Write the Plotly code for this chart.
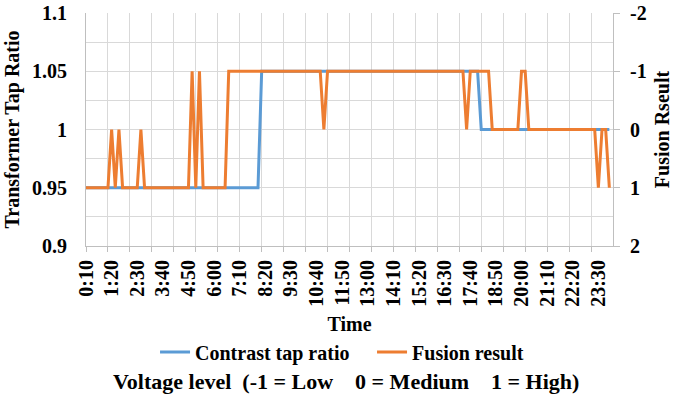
import plotly.graph_objects as go

# 10-minute samples over one day: 0:10 ... 24:00
TIMES = [f"{(m // 60)}:{m % 60:02d}" for m in range(10, 24 * 60 + 1, 10)]

# labels shown on the time axis (every 70 minutes)
TICK_LABELS = ["0:10", "1:20", "2:30", "3:40", "4:50", "6:00", "7:10", "8:20",
               "9:30", "10:40", "11:50", "13:00", "14:10", "15:20", "16:30",
               "17:40", "18:50", "20:00", "21:10", "22:20", "23:30"]

# transformer tap ratio used for comparison (12 samples = 2 hours per row)
CONTRAST_TAP = [
    0.95, 0.95, 0.95, 0.95, 0.95, 0.95, 0.95, 0.95, 0.95, 0.95, 0.95, 0.95,
    0.95, 0.95, 0.95, 0.95, 0.95, 0.95, 0.95, 0.95, 0.95, 0.95, 0.95, 0.95,
    0.95, 0.95, 0.95, 0.95, 0.95, 0.95, 0.95, 0.95, 0.95, 0.95, 0.95, 0.95,
    0.95, 0.95, 0.95, 0.95, 0.95, 0.95, 0.95, 0.95, 0.95, 0.95, 0.95, 0.95,
    1.05, 1.05, 1.05, 1.05, 1.05, 1.05, 1.05, 1.05, 1.05, 1.05, 1.05, 1.05,
    1.05, 1.05, 1.05, 1.05, 1.05, 1.05, 1.05, 1.05, 1.05, 1.05, 1.05, 1.05,
    1.05, 1.05, 1.05, 1.05, 1.05, 1.05, 1.05, 1.05, 1.05, 1.05, 1.05, 1.05,
    1.05, 1.05, 1.05, 1.05, 1.05, 1.05, 1.05, 1.05, 1.05, 1.05, 1.05, 1.05,
    1.05, 1.05, 1.05, 1.05, 1.05, 1.05, 1.05, 1.05, 1.05, 1.05, 1.05, 1.05,
    1.0, 1.0, 1.0, 1.0, 1.0, 1.0, 1.0, 1.0, 1.0, 1.0, 1.0, 1.0,
    1.0, 1.0, 1.0, 1.0, 1.0, 1.0, 1.0, 1.0, 1.0, 1.0, 1.0, 1.0,
    1.0, 1.0, 1.0, 1.0, 1.0, 1.0, 1.0, 1.0, 1.0, 1.0, 1.0, 1.0,
]

# fused voltage level (-1 = low, 0 = medium, 1 = high)
FUSION_LEVEL = [
    1, 1, 1, 1, 1, 1, 1, 0, 1, 0, 1, 1,
    1, 1, 1, 0, 1, 1, 1, 1, 1, 1, 1, 1,
    1, 1, 1, 1, 1, -1, 1, -1, 1, 1, 1, 1,
    1, 1, 1, -1, -1, -1, -1, -1, -1, -1, -1, -1,
    -1, -1, -1, -1, -1, -1, -1, -1, -1, -1, -1, -1,
    -1, -1, -1, -1, -1, 0, -1, -1, -1, -1, -1, -1,
    -1, -1, -1, -1, -1, -1, -1, -1, -1, -1, -1, -1,
    -1, -1, -1, -1, -1, -1, -1, -1, -1, -1, -1, -1,
    -1, -1, -1, -1, -1, -1, -1, -1, 0, -1, -1, -1,
    -1, -1, -1, 0, 0, 0, 0, 0, 0, 0, 0, -1,
    -1, 0, 0, 0, 0, 0, 0, 0, 0, 0, 0, 0,
    0, 0, 0, 0, 0, 0, 0, 0, 1, 0, 0, 1,
]

BLUE = "#5B9BD5"
ORANGE = "#ED7D31"
GRID = "#D9D9D9"
AXIS = "#BFBFBF"
SERIF = "Liberation Serif"

fig = go.Figure()
fig.add_trace(go.Scatter(
    x=TIMES, y=CONTRAST_TAP, mode="lines", name="Contrast tap ratio",
    line=dict(color=BLUE, width=3), xaxis="x", yaxis="y",
))
fig.add_trace(go.Scatter(
    x=TIMES, y=FUSION_LEVEL, mode="lines", name="Fusion result",
    line=dict(color=ORANGE, width=3), xaxis="x2", yaxis="y2",
))

tick_font = dict(family=SERIF, size=20, color="black", weight="bold")
title_font = dict(family=SERIF, size=20, color="black", weight="bold")

fig.update_layout(
    width=673, height=403,
    margin=dict(l=86, r=60, t=13, b=157),
    paper_bgcolor="white", plot_bgcolor="white",
    showlegend=True,
    legend=dict(
        orientation="h", x=0.131, xanchor="left", y=-0.455, yanchor="middle",
        font=dict(family=SERIF, size=20, color="black", weight="bold"),
        itemwidth=30, tracegroupgap=0,
        entrywidth=172, entrywidthmode="pixels",
    ),
    # hourly grid and tick marks
    xaxis=dict(
        type="category", range=[0, 144], automargin=False,
        tickmode="linear", tick0=0, dtick=6,
        showgrid=True, gridcolor=GRID, gridwidth=1,
        ticks="outside", ticklen=5, tickcolor=AXIS,
        showticklabels=False,
        showline=True, linecolor=AXIS, linewidth=1,
        zeroline=False,
    ),
    # time labels every 70 minutes
    xaxis2=dict(
        type="category", overlaying="x", side="bottom", range=[0, 144],
        automargin=False,
        tickmode="array", tickvals=TICK_LABELS, ticktext=TICK_LABELS,
        tickangle=-90, tickfont=tick_font, ticks="", showgrid=False,
        showline=False, zeroline=False, ticklabelstandoff=9,
        title=dict(text="Time", font=title_font, standoff=11),
    ),
    yaxis=dict(
        range=[0.9, 1.1], automargin=False,
        tickmode="array", tickvals=[0.9, 0.95, 1.0, 1.05, 1.1],
        ticktext=["0.9", "0.95", "1", "1.05", "1.1"],
        tickfont=tick_font, ticks="", ticklabelstandoff=14,
        showgrid=True, gridcolor=GRID, gridwidth=1,
        minor=dict(tickmode="linear", dtick=0.025, tick0=0.9, showgrid=True,
                   gridcolor=GRID, gridwidth=1),
        showline=True, linecolor=AXIS, linewidth=1, zeroline=False,
        title=dict(text="Transformer Tap Ratio", font=title_font, standoff=7),
    ),
    yaxis2=dict(
        overlaying="y", side="right", range=[2, -2], automargin=False,
        tickmode="array", tickvals=[-2, -1, 0, 1, 2],
        ticktext=["-2", "-1", "0", "1", "2"],
        tickfont=tick_font, ticks="outside", ticklen=6, tickcolor=AXIS,
        showgrid=False, showline=True, linecolor=AXIS, linewidth=1,
        zeroline=False, ticklabelstandoff=6,
        title=dict(text="Fusion Rseult", font=title_font, standoff=14),
    ),
    annotations=[dict(
        text="Voltage level\u00a0\u00a0(-1 = Low\u00a0\u00a0\u00a0\u00a00 = Medium\u00a0\u00a0\u00a0\u00a01 = High)",
        xref="paper", yref="paper", x=0.494, y=-0.58,
        xanchor="center", yanchor="middle", showarrow=False,
        font=dict(family=SERIF, size=22, color="black", weight="bold"),
    )],
)

fig.write_html("out.html")
